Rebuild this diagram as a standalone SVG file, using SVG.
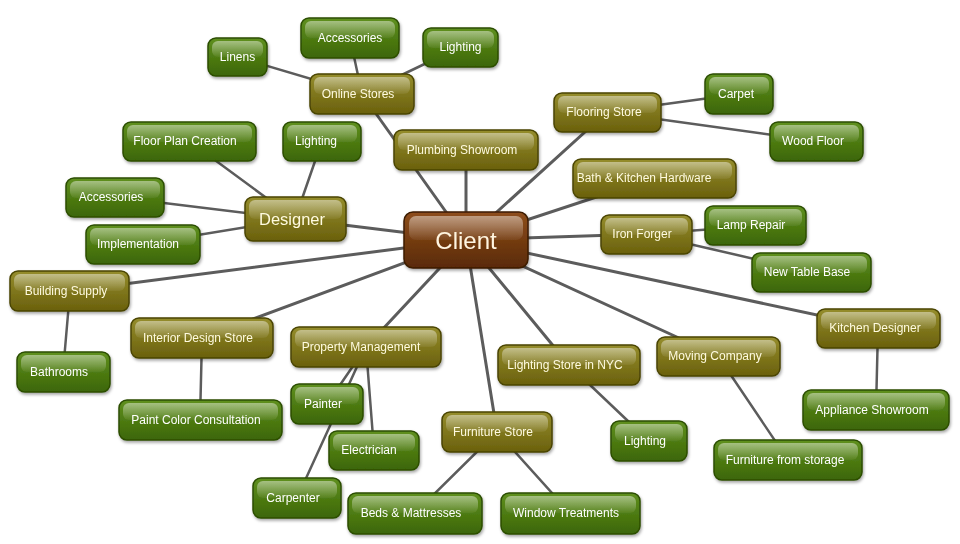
<svg xmlns="http://www.w3.org/2000/svg" width="960" height="544" viewBox="0 0 960 544">
<defs>
<linearGradient id="gO" x1="0" y1="0" x2="0" y2="1"><stop offset="0" stop-color="#958d2c"/><stop offset="1" stop-color="#6a600c"/></linearGradient>
<linearGradient id="gG" x1="0" y1="0" x2="0" y2="1"><stop offset="0" stop-color="#5f901e"/><stop offset="1" stop-color="#3c6606"/></linearGradient>
<linearGradient id="gB" x1="0" y1="0" x2="0" y2="1"><stop offset="0" stop-color="#8e4e1c"/><stop offset="1" stop-color="#5a2a06"/></linearGradient>
<linearGradient id="gH" x1="0" y1="0" x2="0" y2="1"><stop offset="0" stop-color="#fff" stop-opacity="0.45"/><stop offset="1" stop-color="#fff" stop-opacity="0.05"/></linearGradient>
<filter id="sh" x="-20%" y="-20%" width="140%" height="150%"><feDropShadow dx="1" dy="2" stdDeviation="1.5" flood-color="#000" flood-opacity="0.35"/></filter>
</defs>
<style>
.n{filter:url(#sh)}
.b{stroke-width:1.5}
.o .b{fill:url(#gO);stroke:#4a4405}
.g .b{fill:url(#gG);stroke:#2c4d04}
.c .b{fill:url(#gB);stroke:#3d1c03}
.h{fill:url(#gH)}
text{font-family:"Liberation Sans",Arial,sans-serif;font-size:12px;text-anchor:middle;dominant-baseline:central}
.o text{fill:#fffbe0}
.g text{fill:#ffffff}
.c text{fill:#fff5e0;font-size:24px}
#designer text{font-size:16.5px}
.e line{stroke:#5c5c5c;stroke-width:3;stroke-linecap:round}
.e .s{stroke-width:2.5}
</style>
<rect width="960" height="544" fill="#fff"/>
<g id="connectors" class="e">
<line x1="466" y1="240" x2="295" y2="219"/>
<line x1="466" y1="240" x2="362" y2="94"/>
<line x1="466" y1="240" x2="466" y2="150"/>
<line x1="466" y1="240" x2="607" y2="112"/>
<line x1="466" y1="240" x2="654" y2="178"/>
<line x1="466" y1="240" x2="646" y2="234"/>
<line x1="466" y1="240" x2="878" y2="328"/>
<line x1="466" y1="240" x2="718" y2="356"/>
<line x1="466" y1="240" x2="569" y2="365"/>
<line x1="466" y1="240" x2="497" y2="432"/>
<line x1="466" y1="240" x2="366" y2="347"/>
<line x1="466" y1="240" x2="202" y2="338"/>
<line x1="466" y1="240" x2="70" y2="291"/>
<line class="s" x1="362" y1="94" x2="237" y2="57"/>
<line class="s" x1="362" y1="94" x2="350" y2="38"/>
<line class="s" x1="362" y1="94" x2="460" y2="47"/>
<line class="s" x1="295" y1="219" x2="189" y2="141"/>
<line class="s" x1="295" y1="219" x2="322" y2="141"/>
<line class="s" x1="295" y1="219" x2="115" y2="197"/>
<line class="s" x1="295" y1="219" x2="143" y2="244"/>
<line class="s" x1="607" y1="112" x2="739" y2="94"/>
<line class="s" x1="607" y1="112" x2="816" y2="141"/>
<line class="s" x1="646" y1="234" x2="755" y2="226"/>
<line class="s" x1="646" y1="234" x2="811" y2="272"/>
<line class="s" x1="878" y1="328" x2="876" y2="410"/>
<line class="s" x1="718" y1="356" x2="788" y2="460"/>
<line class="s" x1="569" y1="365" x2="649" y2="441"/>
<line class="s" x1="497" y1="432" x2="415" y2="513"/>
<line class="s" x1="497" y1="432" x2="570" y2="513"/>
<line class="s" x1="366" y1="347" x2="327" y2="404"/>
<line class="s" x1="366" y1="347" x2="374" y2="450"/>
<line class="s" x1="366" y1="347" x2="297" y2="498"/>
<line class="s" x1="202" y1="338" x2="200" y2="420"/>
<line class="s" x1="70" y1="291" x2="63" y2="372"/>
</g>

<g id="linens" class="n g"><rect class="b" x="208" y="38" width="59" height="38" rx="8"/><rect class="h" x="212" y="41" width="51" height="16" rx="6"/><text x="237.5" y="57">Linens</text></g>
<g id="accessories-top" class="n g"><rect class="b" x="301" y="18" width="98" height="40" rx="8"/><rect class="h" x="305" y="21" width="90" height="17" rx="6"/><text x="350" y="38">Accessories</text></g>
<g id="lighting-top" class="n g"><rect class="b" x="423" y="28" width="75" height="39" rx="8"/><rect class="h" x="427" y="31" width="67" height="17" rx="6"/><text x="460.5" y="47">Lighting</text></g>
<g id="online-stores" class="n o"><rect class="b" x="310" y="74" width="104" height="40" rx="8"/><rect class="h" x="314" y="77" width="96" height="17" rx="6"/><text x="358" y="94">Online Stores</text></g>
<g id="floor-plan" class="n g"><rect class="b" x="123" y="122" width="133" height="39" rx="8"/><rect class="h" x="127" y="125" width="125" height="17" rx="6"/><text x="185" y="141">Floor Plan Creation</text></g>
<g id="lighting-designer" class="n g"><rect class="b" x="283" y="122" width="78" height="39" rx="8"/><rect class="h" x="287" y="125" width="70" height="17" rx="6"/><text x="316" y="141">Lighting</text></g>
<g id="plumbing" class="n o"><rect class="b" x="394" y="130" width="144" height="40" rx="8"/><rect class="h" x="398" y="133" width="136" height="17" rx="6"/><text x="462" y="150">Plumbing Showroom</text></g>
<g id="flooring" class="n o"><rect class="b" x="554" y="93" width="107" height="39" rx="8"/><rect class="h" x="558" y="96" width="99" height="17" rx="6"/><text x="604" y="112">Flooring Store</text></g>
<g id="carpet" class="n g"><rect class="b" x="705" y="74" width="68" height="40" rx="8"/><rect class="h" x="709" y="77" width="60" height="17" rx="6"/><text x="736" y="94">Carpet</text></g>
<g id="wood-floor" class="n g"><rect class="b" x="770" y="122" width="93" height="39" rx="8"/><rect class="h" x="774" y="125" width="85" height="17" rx="6"/><text x="813" y="141">Wood Floor</text></g>
<g id="bath-kitchen" class="n o"><rect class="b" x="573" y="159" width="163" height="39" rx="8"/><rect class="h" x="577" y="162" width="155" height="17" rx="6"/><text x="644" y="178">Bath &amp; Kitchen Hardware</text></g>
<g id="accessories-left" class="n g"><rect class="b" x="66" y="178" width="98" height="39" rx="8"/><rect class="h" x="70" y="181" width="90" height="17" rx="6"/><text x="111" y="197">Accessories</text></g>
<g id="implementation" class="n g"><rect class="b" x="86" y="225" width="114" height="39" rx="8"/><rect class="h" x="90" y="228" width="106" height="17" rx="6"/><text x="138" y="244">Implementation</text></g>
<g id="designer" class="n o"><rect class="b" x="245" y="197" width="101" height="44" rx="8"/><rect class="h" x="249" y="200" width="93" height="19" rx="6"/><text x="292" y="219">Designer</text></g>
<g id="client" class="n c"><rect class="b" x="404" y="212" width="124" height="56" rx="9"/><rect class="h" x="409" y="216" width="114" height="24" rx="7"/><text x="466" y="240">Client</text></g>
<g id="iron-forger" class="n o"><rect class="b" x="601" y="215" width="91" height="39" rx="8"/><rect class="h" x="605" y="218" width="83" height="17" rx="6"/><text x="642" y="234">Iron Forger</text></g>
<g id="lamp-repair" class="n g"><rect class="b" x="705" y="206" width="101" height="39" rx="8"/><rect class="h" x="709" y="209" width="93" height="17" rx="6"/><text x="751" y="225">Lamp Repair</text></g>
<g id="new-table-base" class="n g"><rect class="b" x="752" y="253" width="119" height="39" rx="8"/><rect class="h" x="756" y="256" width="111" height="17" rx="6"/><text x="807" y="272">New Table Base</text></g>
<g id="building-supply" class="n o"><rect class="b" x="10" y="271" width="119" height="40" rx="8"/><rect class="h" x="14" y="274" width="111" height="17" rx="6"/><text x="66" y="291">Building Supply</text></g>
<g id="bathrooms" class="n g"><rect class="b" x="17" y="352" width="93" height="40" rx="8"/><rect class="h" x="21" y="355" width="85" height="17" rx="6"/><text x="59" y="372">Bathrooms</text></g>
<g id="interior-design" class="n o"><rect class="b" x="131" y="318" width="142" height="40" rx="8"/><rect class="h" x="135" y="321" width="134" height="17" rx="6"/><text x="198" y="338">Interior Design Store</text></g>
<g id="paint-color" class="n g"><rect class="b" x="119" y="400" width="163" height="40" rx="8"/><rect class="h" x="123" y="403" width="155" height="17" rx="6"/><text x="196" y="420">Paint Color Consultation</text></g>
<g id="property-management" class="n o"><rect class="b" x="291" y="327" width="150" height="40" rx="8"/><rect class="h" x="295" y="330" width="142" height="17" rx="6"/><text x="361" y="347">Property Management</text></g>
<g id="painter" class="n g"><rect class="b" x="291" y="384" width="72" height="40" rx="8"/><rect class="h" x="295" y="387" width="64" height="17" rx="6"/><text x="323" y="404">Painter</text></g>
<g id="electrician" class="n g"><rect class="b" x="329" y="431" width="90" height="39" rx="8"/><rect class="h" x="333" y="434" width="82" height="17" rx="6"/><text x="369" y="450">Electrician</text></g>
<g id="carpenter" class="n g"><rect class="b" x="253" y="478" width="88" height="40" rx="8"/><rect class="h" x="257" y="481" width="80" height="17" rx="6"/><text x="293" y="498">Carpenter</text></g>
<g id="furniture-store" class="n o"><rect class="b" x="442" y="412" width="110" height="40" rx="8"/><rect class="h" x="446" y="415" width="102" height="17" rx="6"/><text x="493" y="432">Furniture Store</text></g>
<g id="beds" class="n g"><rect class="b" x="348" y="493" width="134" height="41" rx="8"/><rect class="h" x="352" y="496" width="126" height="17" rx="6"/><text x="411" y="513">Beds &amp; Mattresses</text></g>
<g id="window" class="n g"><rect class="b" x="501" y="493" width="139" height="41" rx="8"/><rect class="h" x="505" y="496" width="131" height="17" rx="6"/><text x="566" y="513">Window Treatments</text></g>
<g id="lighting-nyc" class="n o"><rect class="b" x="498" y="345" width="142" height="40" rx="8"/><rect class="h" x="502" y="348" width="134" height="17" rx="6"/><text x="565" y="365">Lighting Store in NYC</text></g>
<g id="lighting-store" class="n g"><rect class="b" x="611" y="421" width="76" height="40" rx="8"/><rect class="h" x="615" y="424" width="68" height="17" rx="6"/><text x="645" y="441">Lighting</text></g>
<g id="moving" class="n o"><rect class="b" x="657" y="337" width="123" height="39" rx="8"/><rect class="h" x="661" y="340" width="115" height="17" rx="6"/><text x="715" y="356">Moving Company</text></g>
<g id="furniture-storage" class="n g"><rect class="b" x="714" y="440" width="148" height="40" rx="8"/><rect class="h" x="718" y="443" width="140" height="17" rx="6"/><text x="785" y="460">Furniture from storage</text></g>
<g id="kitchen-designer" class="n o"><rect class="b" x="817" y="309" width="123" height="39" rx="8"/><rect class="h" x="821" y="312" width="115" height="17" rx="6"/><text x="875" y="328">Kitchen Designer</text></g>
<g id="appliance" class="n g"><rect class="b" x="803" y="390" width="146" height="40" rx="8"/><rect class="h" x="807" y="393" width="138" height="17" rx="6"/><text x="872" y="410">Appliance Showroom</text></g>
</svg>
